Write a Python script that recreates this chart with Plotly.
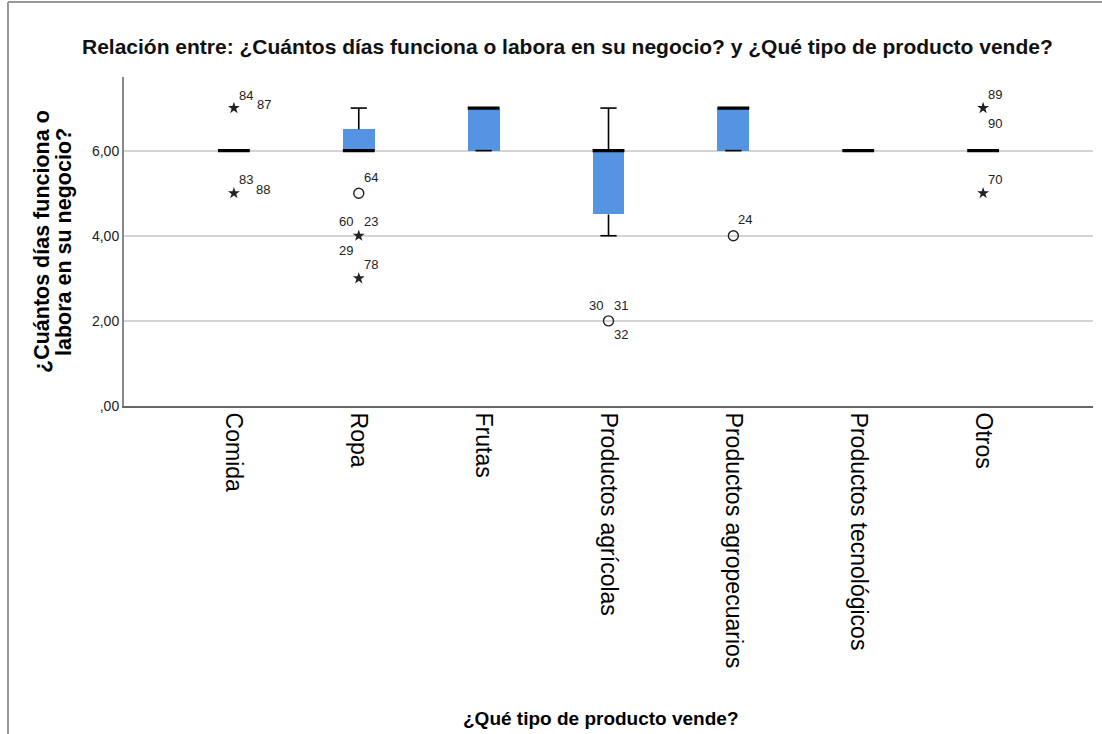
import plotly.graph_objects as go

# ---------------- data ----------------
categories = ["Comida", "Ropa", "Frutas", "Productos agrícolas",
              "Productos agropecuarios", "Productos tecnológicos", "Otros"]
q1 = [6, 6, 6, 4.5, 6, 6, 6]
median = [6, 6, 7, 6, 7, 6, 6]
q3 = [6, 6.5, 7, 6, 7, 6, 6]
whisker_low = [6, 6, 6, 4, 6, 6, 6]
whisker_high = [6, 7, 7, 7, 7, 6, 6]

# outliers: category index, value, kind (circle = atypical, star = extreme), case ids
out_cat = [0, 0, 1, 1, 1, 3, 4, 6, 6]
out_val = [7, 5, 5, 4, 3, 2, 4, 7, 5]
out_kind = ["star", "star", "circle", "star", "star", "circle", "circle", "star", "star"]
out_ids = [["84", "87"], ["83", "88"], ["64"], ["60", "23", "29"], ["78"],
           ["30", "31", "32"], ["24"], ["89", "90"], ["70"]]

y_ticks = [0, 2, 4, 6]
y_ticklabels = [",00", "2,00", "4,00", "6,00"]

title = "Relación entre: ¿Cuántos días funciona o labora en su negocio? y ¿Qué tipo de producto vende?"
y_title_lines = ["¿Cuántos días funciona o", "labora en su negocio?"]
x_title = "¿Qué tipo de producto vende?"

# ---------------- layout constants ----------------
W, H = 1102, 734
ML, MR, MT, MB = 124, 9, 77, 328
BOX_W = 0.255
CAP_W = 0.13
BLUE = "#5594E3"
FONT = "Liberation Sans, Arial, sans-serif"
pw = W - ML - MR
ph = H - MT - MB


def px_x(x):
    return (x - ML) / pw


def px_y(y):
    return (H - MB - y) / ph


# label pixel offsets (dx, dy) per label position within a group
label_offsets = [
    [(12, 13), (30, 4)],
    [(12, 14), (29, 4)],
    [(12, 16)],
    [(-13, 14), (12, 14), (-13, -15)],
    [(12, 14)],
    [(-13, 15), (12, 15), (12, -14)],
    [(12, 16)],
    [(12, 14), (12, -15)],
    [(12, 14)],
]

xs = list(range(len(categories)))
fig = go.Figure()

# boxes (q1 -> q3)
fig.add_trace(go.Bar(
    x=xs, y=[b - a for a, b in zip(q1, q3)], base=q1, width=BOX_W,
    marker=dict(color=BLUE, line=dict(width=0)), hoverinfo="skip", showlegend=False))

# whiskers
wx, wy = [], []
for i in xs:
    if whisker_high[i] > q3[i]:
        wx += [i, i, None, i - CAP_W / 2, i + CAP_W / 2, None]
        wy += [q3[i], whisker_high[i], None, whisker_high[i], whisker_high[i], None]
    if whisker_low[i] < q1[i]:
        wx += [i, i, None, i - CAP_W / 2, i + CAP_W / 2, None]
        wy += [q1[i], whisker_low[i], None, whisker_low[i], whisker_low[i], None]
    if whisker_low[i] == q1[i] and q3[i] > q1[i]:
        wx += [i - CAP_W / 2, i + CAP_W / 2, None]
        wy += [whisker_low[i], whisker_low[i], None]
fig.add_trace(go.Scatter(x=wx, y=wy, mode="lines", line=dict(color="black", width=1.6),
                         hoverinfo="skip", showlegend=False))

# medians
mx, my = [], []
for i in xs:
    mx += [i - BOX_W / 2, i + BOX_W / 2, None]
    my += [median[i], median[i], None]
fig.add_trace(go.Scatter(x=mx, y=my, mode="lines", line=dict(color="black", width=3.2),
                         hoverinfo="skip", showlegend=False))

# outliers
for kind, sym, size, lw in [("circle", "circle-open", 10, 1.4), ("star", "star", 9, 0)]:
    pxs = [out_cat[k] for k in range(len(out_cat)) if out_kind[k] == kind]
    pys = [out_val[k] for k in range(len(out_cat)) if out_kind[k] == kind]
    fig.add_trace(go.Scatter(
        x=pxs, y=pys, mode="markers",
        marker=dict(symbol=sym, size=size, color="#222",
                    line=dict(color="#222", width=lw)),
        hoverinfo="skip", showlegend=False))

annotations = []
for k in range(len(out_cat)):
    for lab, (dx, dy) in zip(out_ids[k], label_offsets[k]):
        annotations.append(dict(
            x=out_cat[k], y=out_val[k], xref="x", yref="y", text=lab, showarrow=False,
            xshift=dx, yshift=dy, font=dict(family=FONT, size=13, color="#222")))

annotations.append(dict(
    x=px_x(567), y=px_y(46), xref="paper", yref="paper",
    text="<b>" + title + "</b>", showarrow=False,
    font=dict(family=FONT, size=21, color="#111"),
    xanchor="center", yanchor="middle"))

for line, xc in zip(y_title_lines, [42, 64]):
    annotations.append(dict(
        x=px_x(xc), y=px_y(242), xref="paper", yref="paper",
        text="<b>" + line + "</b>", showarrow=False, textangle=-90,
        font=dict(family=FONT, size=21.5, color="black"),
        xanchor="center", yanchor="middle"))

annotations.append(dict(
    x=px_x(601), y=px_y(718), xref="paper", yref="paper",
    text="<b>" + x_title + "</b>", showarrow=False,
    font=dict(family=FONT, size=19, color="black"), xanchor="center", yanchor="middle"))

shapes = [
    # outer frame (left and top)
    dict(type="line", xref="paper", yref="paper",
         x0=px_x(8), x1=px_x(8), y0=px_y(H + 10), y1=px_y(2),
         line=dict(color="#999", width=2)),
    dict(type="line", xref="paper", yref="paper",
         x0=px_x(8), x1=px_x(W + 10), y0=px_y(2), y1=px_y(2),
         line=dict(color="#999", width=2)),
]

fig.update_layout(
    width=W, height=H,
    margin=dict(l=ML, r=MR, t=MT, b=MB, autoexpand=False),
    paper_bgcolor="white", plot_bgcolor="white",
    showlegend=False, bargap=0,
    annotations=annotations, shapes=shapes,
    xaxis=dict(range=[-0.88, 6.88], tickmode="array", tickvals=xs, ticktext=categories,
               tickangle=90, showgrid=False, zeroline=False, showline=True,
               linecolor="#666", linewidth=2, ticks="",
               tickfont=dict(family=FONT, size=23, color="black")),
    yaxis=dict(range=[0, 7.73], tickmode="array", tickvals=y_ticks, ticktext=y_ticklabels,
               showgrid=True, gridcolor="#D4D4D4", gridwidth=2, zeroline=False,
               showline=True, linecolor="#888", linewidth=2, ticks="",
               tickfont=dict(family=FONT, size=14, color="#222")),
)

fig.write_html("out.html", config={"displayModeBar": False},
               post_script="document.body.style.margin='0px';")
